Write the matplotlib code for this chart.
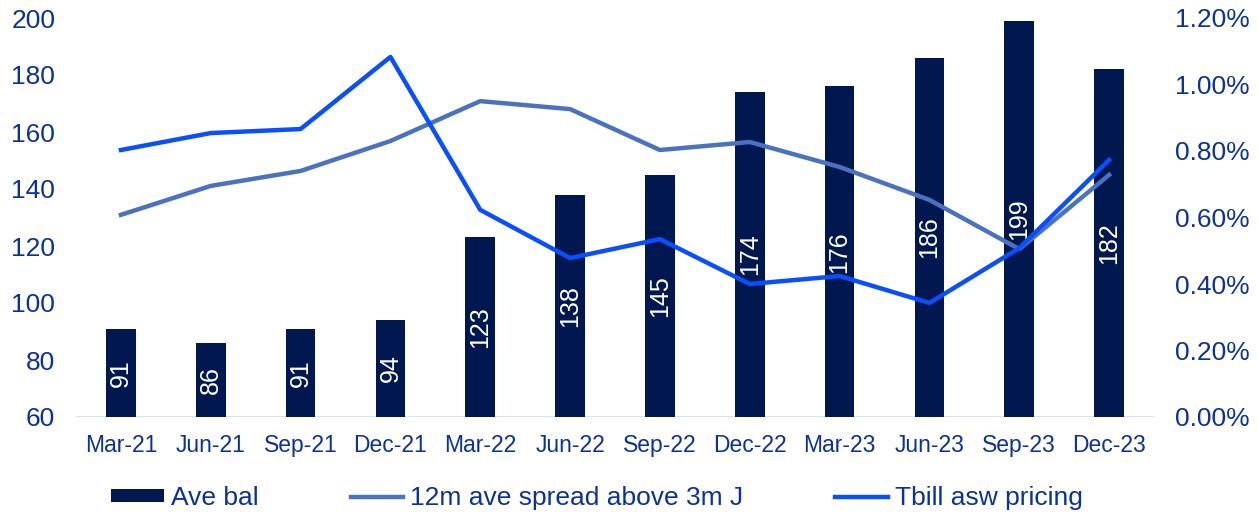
import matplotlib
matplotlib.use('Agg')
import matplotlib.pyplot as plt
from matplotlib.ticker import FuncFormatter, MultipleLocator
import numpy as np

plt.rcParams['font.family'] = ['Liberation Sans', 'DejaVu Sans']

# chart data
quarters = ['Mar-21', 'Jun-21', 'Sep-21', 'Dec-21', 'Mar-22', 'Jun-22',
            'Sep-22', 'Dec-22', 'Mar-23', 'Jun-23', 'Sep-23', 'Dec-23']
ave_bal = [91, 86, 91, 94, 123, 138, 145, 174, 176, 186, 199, 182]
spread_12m = [0.608, 0.695, 0.740, 0.830, 0.950, 0.926,
              0.803, 0.827, 0.752, 0.653, 0.505, 0.728]  # in %
tbill_asw = [0.803, 0.854, 0.866, 1.083, 0.623, 0.478,
             0.535, 0.400, 0.424, 0.343, 0.508, 0.773]  # in %

bar_col = '#00184F'
spread_col = '#4A72C0'
tbill_col = '#0A4FFF'
txt_col = '#0B3394'

fig = plt.figure(figsize=(12.58, 5.16), dpi=100)
ax = fig.add_axes([76 / 1258, 1 - 417 / 516, (1154 - 76) / 1258, (417 - 18) / 516])
ax2 = ax.twinx()

x = np.arange(len(quarters))
bars = ax.bar(x, ave_bal, width=0.33, color=bar_col, label='Ave bal', zorder=2)
for xi, v in zip(x, ave_bal):
    ax.text(xi, (60 + v) / 2, str(v), rotation=90, ha='center', va='center',
            color='white', fontsize=18, zorder=3)

ax.set_ylim(60, 200)
ax.set_xlim(-0.5, len(quarters) - 0.5)
ax.yaxis.set_major_locator(MultipleLocator(20))
ax.set_xticks(x)
ax.set_xticklabels(quarters)

l1, = ax2.plot(x, spread_12m, color=spread_col, lw=3.2,
               label='12m ave spread above 3m J', zorder=4)
l2, = ax2.plot(x, tbill_asw, color=tbill_col, lw=3.2,
               label='Tbill asw pricing', zorder=5)
ax2.set_ylim(0, 1.2)
ax2.yaxis.set_major_locator(MultipleLocator(0.2))
ax2.yaxis.set_major_formatter(FuncFormatter(lambda v, p: '%.2f%%' % v))

for a in (ax, ax2):
    for s in ('top', 'left', 'right'):
        a.spines[s].set_visible(False)
    a.spines['bottom'].set_visible(False)
ax.axhline(60, color='#D6DEF0', lw=2, zorder=1)

ax.tick_params(axis='y', length=0, pad=15, labelsize=19, labelcolor=txt_col)
ax.tick_params(axis='x', length=0, pad=12, labelsize=16.5, labelcolor=txt_col)
ax2.tick_params(axis='y', length=0, pad=15, labelsize=19, labelcolor=txt_col)

fig.legend(handles=[bars, l1, l2], loc='center',
           bbox_to_anchor=(597 / 1258, 1 - 498 / 516), ncol=3, frameon=False,
           fontsize=19, labelcolor=txt_col, handlelength=2.0, handleheight=0.35,
           handletextpad=0.25, columnspacing=3.5, borderpad=0)

fig.savefig('out.png', dpi=100)
